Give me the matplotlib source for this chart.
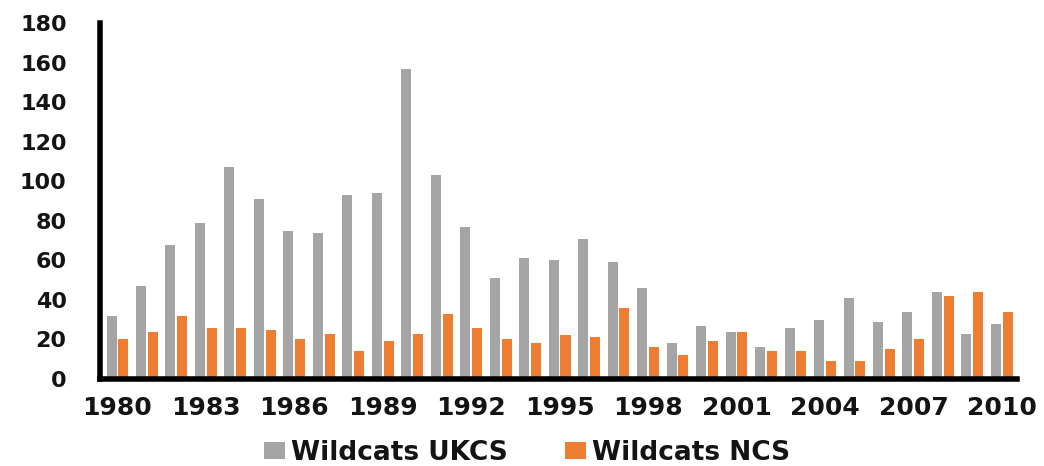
import matplotlib
matplotlib.use("Agg")
import matplotlib.pyplot as plt
import numpy as np

years = list(range(1980, 2011))
wildcats_ukcs = [32, 47, 68, 79, 107, 91, 75, 74, 93, 94, 157, 103, 77, 51, 61, 60,
                 71, 59, 46, 18, 27, 24, 16, 26, 30, 41, 29, 34, 44, 23, 28]
wildcats_ncs = [20, 24, 32, 26, 26, 25, 20, 23, 14, 19, 23, 33, 26, 20, 18, 22,
                21, 36, 16, 12, 19, 24, 14, 14, 9, 9, 15, 20, 42, 44, 34]
series_labels = ["Wildcats UKCS", "Wildcats NCS"]
yticks = list(range(0, 181, 20))
xtick_years = years[::3]

GREY = "#A5A5A5"
ORANGE = "#ED7D31"
TEXT = "#141414"

plt.rcParams["font.family"] = ["DejaVu Sans"]
plt.rcParams["font.weight"] = "bold"

fig = plt.figure(figsize=(10.44, 4.66), dpi=100)
ax = fig.add_axes([0.0958, 0.1867, 0.974 - 0.0958, 0.9506 - 0.1867])

x = np.arange(len(years))
w = 0.34
ax.bar(x - 0.2, wildcats_ukcs, width=w, color=GREY, label=series_labels[0], zorder=2)
ax.bar(x + 0.2, wildcats_ncs, width=w, color=ORANGE, label=series_labels[1], zorder=2)

ax.set_xlim(-0.59, 30.51)
ax.set_ylim(0, 180)
ax.set_yticks(yticks)
ax.set_yticklabels([str(v) for v in yticks], fontsize=16, fontweight="bold", color=TEXT)
ax.set_xticks([years.index(yr) for yr in xtick_years])
ax.set_xticklabels([str(yr) for yr in xtick_years], fontsize=18, fontweight="bold", color=TEXT)
ax.tick_params(axis="y", length=0, pad=24)
ax.tick_params(axis="x", length=0, pad=12)

for side in ("top", "right"):
    ax.spines[side].set_visible(False)
for side in ("left", "bottom"):
    ax.spines[side].set_linewidth(4)
    ax.spines[side].set_color("black")
    ax.spines[side].set_capstyle("projecting")

fig.legend(loc="center", bbox_to_anchor=(527 / 1044, 1 - 453 / 466), ncol=2,
           frameon=False, handlelength=0.8, handleheight=0.6, handletextpad=0.2,
           columnspacing=2.2, prop={"size": 19, "weight": "bold"}, labelcolor=TEXT)

fig.savefig("out.png", dpi=100)
